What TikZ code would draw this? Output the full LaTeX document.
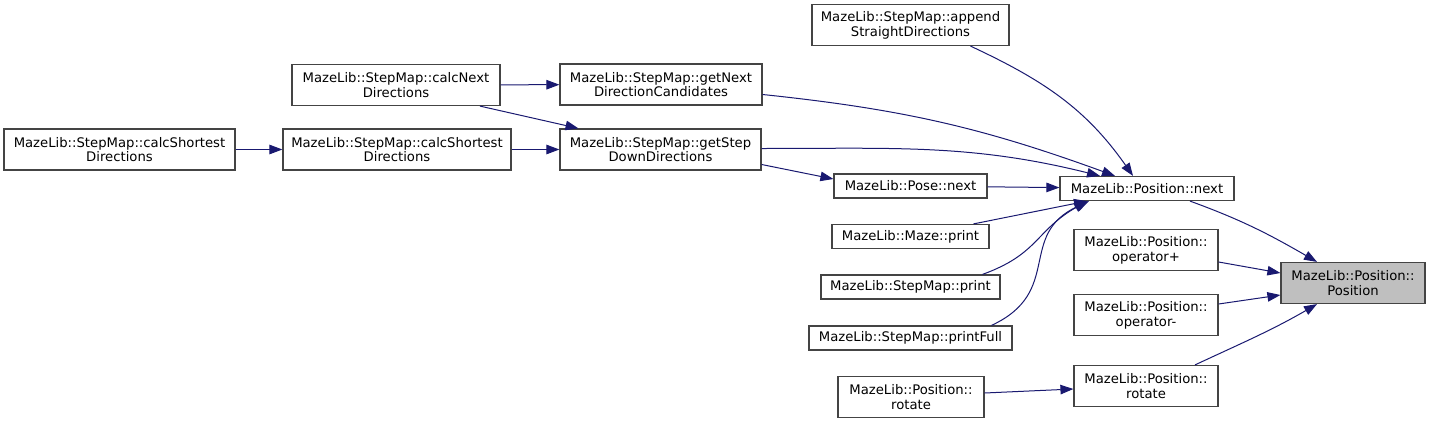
\documentclass[tikz,border=0pt]{standalone}
\usepackage{fontspec}
\setmainfont{DejaVu Sans}
\usetikzlibrary{arrows.meta}
\definecolor{edge}{HTML}{191970}
\definecolor{frame}{HTML}{444444}
\definecolor{current}{HTML}{BFBFBF}

\begin{document}
\begin{tikzpicture}[x=1pt, y=1pt,
  font=\fontsize{13.2}{14.8}\selectfont,
  fn/.style={draw=frame, line width=1.2pt, fill=white, align=center,
    inner sep=2pt, minimum height=24pt},
  fntwo/.style={fn, minimum height=41pt},
  call/.style={-{Triangle[length=13pt,width=9.5pt]}, color=edge, line width=1pt}
]
  \useasboundingbox (0,0) rectangle (1431,-423);

  \node[fntwo, fill=current, minimum width=144] (pos) at (1353,-283) {MazeLib::Position::\\Position};
  \node[fn, minimum width=174] (next) at (1147,-188.5) {MazeLib::Position::next};
  \node[fntwo, minimum width=144] (opplus) at (1146,-250) {MazeLib::Position::\\operator+};
  \node[fntwo, minimum width=144] (opminus) at (1146,-315) {MazeLib::Position::\\operator-};
  \node[fntwo, minimum width=144] (rotate) at (1146,-386) {MazeLib::Position::\\rotate};
  \node[fntwo, minimum width=146] (rotatecaller) at (911,-397) {MazeLib::Position::\\rotate};

  \draw[call] ([xshift=43]next.south) to[out=-20,in=150] ([xshift=-36]pos.north);
  \draw[call] ([yshift=-12]opplus.east) -- ([yshift=10]pos.west);
  \draw[call] ([yshift=11]opminus.east) -- ([yshift=-12]pos.west);
  \draw[call] ([xshift=49]rotate.north) to[out=25,in=-150] ([xshift=-36]pos.south);
  \draw[call] ([yshift=4]rotatecaller.east) -- ([yshift=-3]rotate.west);

  \node[fntwo, minimum width=197] (append) at (910.5,-25) {MazeLib::StepMap::append\\StraightDirections};
  \node[fntwo, minimum width=202] (getnext) at (661,-84.5) {MazeLib::StepMap::getNext\\DirectionCandidates};
  \node[fntwo, minimum width=201] (getstep) at (660.5,-149.5) {MazeLib::StepMap::getStep\\DownDirections};
  \node[fn, minimum width=153] (posenext) at (910.5,-186) {MazeLib::Pose::next};
  \node[fn, minimum width=157] (mazeprint) at (910.5,-236.5) {MazeLib::Maze::print};
  \node[fn, minimum width=179] (stepprint) at (910.5,-287) {MazeLib::StepMap::print};
  \node[fn, minimum width=203] (printfull) at (910.5,-338) {MazeLib::StepMap::printFull};

  \draw[call] ([xshift=60]append.south) to[out=-25,in=125] ([xshift=-14]next.north);
  \draw[call] ([yshift=-10]getnext.east) to[out=-6,in=160] ([xshift=-32]next.north);
  \draw[call] ([yshift=1]getstep.east) to[out=0,in=166] ([xshift=-47]next.north);
  \draw[call] (posenext) -- (next);
  \draw[call] ([xshift=63]mazeprint.north) -- ([xshift=-60]next.south);
  \draw[call] ([xshift=72]stepprint.north) to[out=20,in=-150,looseness=1.2] ([xshift=-60]next.south);
  \draw[call] ([xshift=81]printfull.north) to[out=25,in=-155,looseness=1.3] ([xshift=-58]next.south);
  \draw[call] ([yshift=-15]getstep.east) -- ([yshift=7]posenext.west);

  \node[fntwo, minimum width=208] (calcnext) at (396,-85) {MazeLib::StepMap::calcNext\\Directions};
  \node[fntwo, minimum width=228] (shortest) at (397,-149.5) {MazeLib::StepMap::calcShortest\\Directions};
  \node[fntwo, minimum width=231] (shortestcaller) at (119.5,-149.5) {MazeLib::StepMap::calcShortest\\Directions};

  \draw[call] (calcnext) -- (getnext);
  \draw[call] ([xshift=84]calcnext.south) -- ([xshift=-82]getstep.north);
  \draw[call] (shortest) -- (getstep);
  \draw[call] (shortestcaller) -- (shortest);
\end{tikzpicture}
\end{document}
